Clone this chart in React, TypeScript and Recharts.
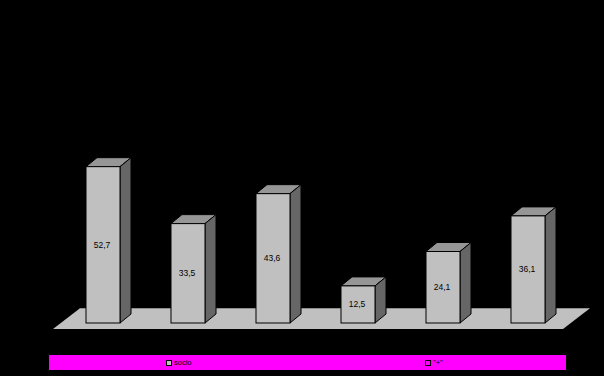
import { Bar, BarChart, LabelList, Legend, ReferenceArea, XAxis, YAxis } from 'recharts';

const categories = ['A', 'B', 'C', 'D', 'E', 'F'];
const values = [52.7, 33.5, 43.6, 12.5, 24.1, 36.1];
const legendNames = ['socio', '"+"'];
const legendFills = ['#c0c0c0', '#ff00ff'];

const chartData = categories.map((name, i) => ({ name, value: values[i] }));

function Floor({ x, y, width, height }: any) {
  const shift = 27;
  const left = x - 7;
  const right = x + width + 20;
  const top = y;
  const bottom = y + height + 6;
  return (
    <polygon
      points={`${left},${bottom} ${left + shift},${top} ${right},${top} ${right - shift},${bottom}`}
      fill="#c0c0c0"
    />
  );
}

function Box3D({ x, y, width, height }: any) {
  const dx = 11;
  const dy = 9;
  return (
    <g stroke="#000" strokeWidth={1}>
      <polygon
        points={`${x},${y} ${x + dx},${y - dy} ${x + width + dx},${y - dy} ${x + width},${y}`}
        fill="#969696"
      />
      <polygon
        points={`${x + width},${y} ${x + width + dx},${y - dy} ${x + width + dx},${y + height - dy} ${x + width},${y + height}`}
        fill="#666666"
      />
      <rect x={x} y={y} width={width} height={height} fill="#c0c0c0" />
    </g>
  );
}

function LegendBar() {
  return (
    <div
      style={{
        position: 'relative',
        width: 517,
        height: 15,
        background: '#ff00ff',
        fontFamily: 'Liberation Sans',
        fontSize: 7.5,
        color: '#000',
      }}
    >
      {legendNames.map((name, i) => (
        <div
          key={name}
          style={{ position: 'absolute', left: i === 0 ? 117 : 376, top: 0, height: 15, display: 'flex', alignItems: 'center' }}
        >
          <span
            style={{
              display: 'inline-block',
              boxSizing: 'border-box',
              width: 6,
              height: 6,
              border: '1px solid #000',
              background: legendFills[i],
              marginRight: 2,
            }}
          />
          <span>{name}</span>
        </div>
      ))}
    </div>
  );
}

export default function App() {
  return (
    <div style={{ position: 'fixed', left: 0, top: 0, width: 604, height: 376, background: '#000' }}>
      <BarChart
        width={604}
        height={376}
        data={chartData}
        barSize={34}
        margin={{ top: 145, right: 34, bottom: 38, left: 60 }}
      >
        <XAxis dataKey="name" hide />
        <YAxis hide domain={[0, 60]} />
        <ReferenceArea y1={0} y2={5} shape={Floor} ifOverflow="visible" />
        <Legend
          content={<LegendBar />}
          wrapperStyle={{ position: 'absolute', left: 49, top: 355, width: 517, bottom: 'auto' }}
        />
        <Bar dataKey="value" shape={Box3D} isAnimationActive={false}>
          <LabelList
            dataKey="value"
            position="center"
            dx={-1}
            formatter={(v: any) => String(v).replace('.', ',')}
            fill="#000"
            style={{ fontFamily: 'Liberation Sans', fontSize: 8.5 }}
          />
        </Bar>
      </BarChart>
    </div>
  );
}
